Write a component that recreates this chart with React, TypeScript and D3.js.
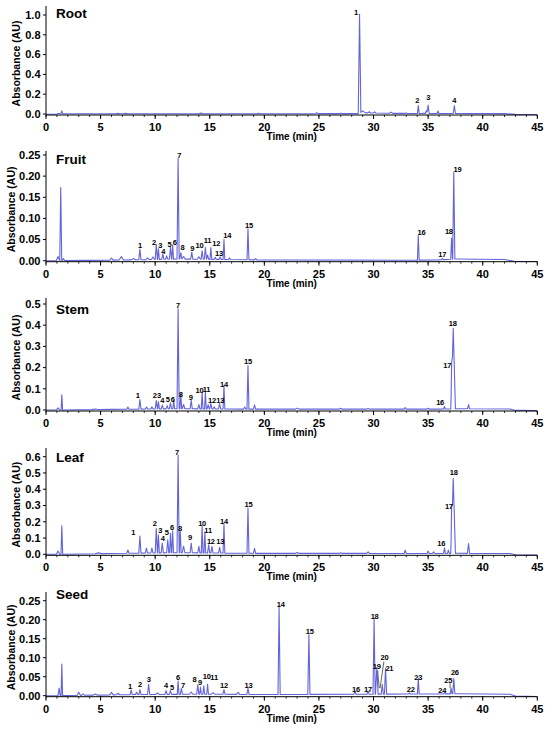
import React from "react";
import * as d3 from "d3";

// ---------- DATA (retention time min, absorbance AU, half base width min) ----------
const timeTicks = [0, 5, 10, 15, 20, 25, 30, 35, 40, 45];
const timeMinorTicks = d3.range(0, 46, 1);

const rootTicks = [0, 0.2, 0.4, 0.6, 0.8, 1.0];
const fruitTicks = [0, 0.05, 0.1, 0.15, 0.2, 0.25];
const stemTicks = [0, 0.1, 0.2, 0.3, 0.4, 0.5];
const leafTicks = [0, 0.1, 0.2, 0.3, 0.4, 0.5, 0.6];
const seedTicks = [0, 0.05, 0.1, 0.15, 0.2, 0.25];

const rootBaseline: [number, number][] = [[0, -0.003], [1, -0.003], [1.2, 0.002], [20, 0.003], [28.5, 0.004], [29.1, 0.012], [32, 0.006], [42, 0.004], [43, -0.004], [45, -0.005]];
const rootPeaks: [number, number, number][] = [
  [1.1, 0.005, 0.2], [1.45, 0.03, 0.08], [6.6, 0.004, 0.2], [7.3, 0.004, 0.2], [14.2, 0.006, 0.2], [19.5, 0.004, 0.2],
  [24.8, 0.01, 0.12], [27.0, 0.004, 0.15], [28.72, 1.0, 0.12], [29.0, 0.02, 0.25], [29.6, 0.012, 0.12], [30.1, 0.012, 0.12],
  [31.6, 0.012, 0.15], [33.0, 0.005, 0.12], [34.1, 0.08, 0.08], [34.6, 0.005, 0.1], [34.85, 0.03, 0.1], [35.0, 0.085, 0.1],
  [35.9, 0.025, 0.08], [37.4, 0.08, 0.1],
];
const rootLabels: [string, number, number][] = [["1", 28.4, 1.03], ["2", 34.0, 0.141], ["3", 35.0, 0.172], ["4", 37.4, 0.141]];

const fruitBaseline: [number, number][] = [[0, 0], [1, 0], [8, 0.002], [12, 0.004], [16, 0.003], [19, 0.002], [33, 0.001], [36, 0.002], [37.5, 0.004], [42, 0.003], [43, -0.002], [45, -0.002]];
const fruitPeaks: [number, number, number][] = [
  [1.1, 0.01, 0.15], [1.35, 0.173, 0.09], [1.6, 0.005, 0.1], [6.0, 0.005, 0.15], [6.9, 0.008, 0.2], [8.0, 0.003, 0.2],
  [8.6, 0.025, 0.1], [9.3, 0.004, 0.15], [9.8, 0.006, 0.15], [10.1, 0.035, 0.1], [10.3, 0.025, 0.08], [10.7, 0.013, 0.1],
  [11.05, 0.008, 0.1], [11.4, 0.028, 0.1], [11.6, 0.033, 0.08], [12.1, 0.238, 0.1], [12.35, 0.015, 0.1], [12.6, 0.006, 0.15],
  [13.35, 0.016, 0.1], [14.0, 0.006, 0.15], [14.3, 0.02, 0.1], [14.6, 0.028, 0.1], [14.8, 0.01, 0.1], [15.1, 0.028, 0.08],
  [15.5, 0.005, 0.1], [15.95, 0.006, 0.1], [16.3, 0.047, 0.08], [16.8, 0.004, 0.1], [18.5, 0.073, 0.09], [19.2, 0.003, 0.1],
  [34.1, 0.058, 0.08], [36.3, 0.003, 0.1], [37.15, 0.05, 0.08], [37.35, 0.205, 0.1],
];
const fruitLabels: [string, number, number][] = [
  ["1", 8.6, 0.037], ["2", 9.9, 0.0426], ["3", 10.47, 0.037], ["4", 10.75, 0.023], ["5", 11.3, 0.0395], ["6", 11.8, 0.0426],
  ["7", 12.2, 0.25], ["8", 12.5, 0.0307], ["9", 13.4, 0.0293], ["10", 14.05, 0.0355], ["11", 14.8, 0.0473], ["12", 15.6, 0.0412],
  ["13", 15.85, 0.0175], ["14", 16.6, 0.059], ["15", 18.6, 0.0844], ["16", 34.4, 0.066], ["17", 36.3, 0.015], ["18", 36.9, 0.0686],
  ["19", 37.7, 0.216],
];

const stemBaseline: [number, number][] = [[0, 0], [1, 0], [6, 0.003], [12, 0.006], [19, 0.004], [36, 0.004], [37.6, 0.006], [42.5, 0.005], [43, -0.002], [45, -0.003]];
const stemPeaks: [number, number, number][] = [
  [1.1, 0.01, 0.15], [1.45, 0.072, 0.07], [4.5, 0.003, 0.3], [7.5, 0.01, 0.1], [8.6, 0.045, 0.1], [9.2, 0.01, 0.1],
  [9.7, 0.01, 0.1], [10.1, 0.04, 0.1], [10.3, 0.035, 0.08], [10.65, 0.018, 0.1], [11.1, 0.015, 0.1], [11.4, 0.028, 0.1],
  [11.7, 0.04, 0.08], [12.1, 0.47, 0.1], [12.35, 0.07, 0.08], [12.6, 0.02, 0.12], [13.3, 0.04, 0.1], [14.0, 0.02, 0.1],
  [14.3, 0.075, 0.08], [14.6, 0.08, 0.08], [14.85, 0.02, 0.1], [15.1, 0.025, 0.1], [15.4, 0.01, 0.1], [15.9, 0.025, 0.1],
  [16.3, 0.11, 0.08], [18.2, 0.01, 0.1], [18.5, 0.205, 0.09], [19.1, 0.02, 0.1], [23, 0.005, 0.15], [27, 0.004, 0.15],
  [29.5, 0.003, 0.15], [32.9, 0.008, 0.1], [35, 0.004, 0.1], [36.5, 0.012, 0.08], [37.15, 0.12, 0.08], [37.3, 0.38, 0.2],
  [38.7, 0.02, 0.1],
];
const stemLabels: [string, number, number][] = [
  ["1", 8.4, 0.069], ["2", 9.95, 0.071], ["3", 10.35, 0.071], ["4", 10.65, 0.047], ["5", 11.15, 0.052], ["6", 11.6, 0.052],
  ["7", 12.1, 0.495], ["8", 12.35, 0.075], ["9", 13.25, 0.06], ["10", 14.05, 0.091], ["11", 14.7, 0.098], ["12", 15.2, 0.047],
  ["13", 15.95, 0.047], ["14", 16.3, 0.121], ["15", 18.5, 0.228], ["16", 36.1, 0.034], ["17", 36.75, 0.212], ["18", 37.25, 0.409],
];

const leafBaseline: [number, number][] = [[0, 0], [1, 0], [6, 0.005], [12, 0.01], [19, 0.006], [36, 0.005], [37.6, 0.006], [42.5, 0.005], [43, -0.003], [45, -0.004]];
const leafPeaks: [number, number, number][] = [
  [1.1, 0.02, 0.15], [1.45, 0.175, 0.08], [4.8, 0.005, 0.3], [7.5, 0.02, 0.1], [8.6, 0.105, 0.1], [9.2, 0.03, 0.1],
  [9.7, 0.03, 0.1], [10.1, 0.15, 0.1], [10.3, 0.11, 0.08], [10.65, 0.06, 0.1], [11.15, 0.08, 0.1], [11.4, 0.12, 0.08],
  [11.6, 0.135, 0.08], [12.1, 0.6, 0.1], [12.3, 0.13, 0.08], [12.6, 0.04, 0.12], [13.3, 0.06, 0.1], [14.0, 0.04, 0.1],
  [14.3, 0.165, 0.08], [14.55, 0.13, 0.08], [14.9, 0.05, 0.1], [15.2, 0.04, 0.1], [15.9, 0.035, 0.1], [16.3, 0.18, 0.08],
  [18.5, 0.278, 0.09], [19.1, 0.03, 0.1], [23, 0.005, 0.15], [27, 0.004, 0.15], [29.5, 0.01, 0.12], [32.9, 0.02, 0.1],
  [35, 0.015, 0.1], [35.5, 0.01, 0.1], [36.5, 0.035, 0.08], [36.85, 0.02, 0.08], [37.15, 0.17, 0.08], [37.3, 0.46, 0.2],
  [38.7, 0.06, 0.1],
];
const leafLabels: [string, number, number][] = [
  ["1", 8.0, 0.133], ["2", 9.95, 0.19], ["3", 10.47, 0.149], ["4", 10.7, 0.098], ["5", 11.05, 0.135], ["6", 11.55, 0.166],
  ["7", 12.0, 0.627], ["8", 12.27, 0.16], ["9", 13.2, 0.102], ["10", 14.3, 0.19], ["11", 14.85, 0.149], ["12", 15.1, 0.077],
  ["13", 15.95, 0.077], ["14", 16.3, 0.205], ["15", 18.55, 0.307], ["16", 36.2, 0.068], ["17", 36.9, 0.297], ["18", 37.35, 0.502],
];

const seedBaseline: [number, number][] = [[0, 0], [1, 0], [8, 0.003], [15, 0.004], [20, 0.003], [30, 0.004], [37.6, 0.005], [42.5, 0.004], [43, -0.001], [45, -0.002]];
const seedPeaks: [number, number, number][] = [
  [1.2, 0.02, 0.1], [1.45, 0.083, 0.07], [3.0, 0.008, 0.15], [3.4, 0.004, 0.15], [4.5, 0.003, 0.2], [6.0, 0.007, 0.15],
  [6.6, 0.004, 0.15], [7.8, 0.012, 0.1], [8.3, 0.006, 0.1], [8.6, 0.013, 0.1], [9.4, 0.027, 0.1], [10.2, 0.004, 0.15],
  [11.0, 0.01, 0.1], [11.4, 0.01, 0.1], [12.1, 0.035, 0.08], [12.4, 0.016, 0.1], [13.3, 0.006, 0.15], [13.9, 0.025, 0.1],
  [14.15, 0.018, 0.08], [14.45, 0.022, 0.08], [14.8, 0.026, 0.08], [15.3, 0.004, 0.15], [16.3, 0.012, 0.1], [17.6, 0.005, 0.15],
  [18.5, 0.016, 0.1], [21.35, 0.23, 0.1], [24.08, 0.157, 0.1], [28.3, 0.008, 0.1], [29.5, 0.008, 0.1], [30.05, 0.197, 0.1],
  [30.3, 0.07, 0.12], [30.8, 0.025, 0.1], [31.1, 0.068, 0.1], [33.3, 0.003, 0.1], [34.1, 0.041, 0.08], [36.5, 0.003, 0.1],
  [37.1, 0.015, 0.08], [37.35, 0.04, 0.1],
];
const seedLabels: [string, number, number][] = [
  ["1", 7.7, 0.0255], ["2", 8.6, 0.029], ["3", 9.4, 0.043], ["4", 11.0, 0.026], ["5", 11.55, 0.023], ["6", 12.1, 0.047],
  ["7", 12.55, 0.028], ["8", 13.6, 0.043], ["9", 14.1, 0.036], ["10", 14.72, 0.051], ["11", 15.4, 0.047], ["12", 16.3, 0.028],
  ["13", 18.55, 0.028], ["14", 21.5, 0.241], ["15", 24.15, 0.168], ["16", 28.4, 0.017], ["17", 29.5, 0.017], ["18", 30.1, 0.208],
  ["19", 30.3, 0.078], ["20", 31.0, 0.101], ["21", 31.45, 0.071], ["22", 33.4, 0.017], ["23", 34.1, 0.048], ["24", 36.3, 0.015],
  ["25", 36.85, 0.041], ["26", 37.45, 0.061],
];
const seedLeaders: [number, number, number, number][] = [[30.38, 0.066, 30.52, 0.02], [30.95, 0.09, 30.6, 0.02], [37.0, 0.033, 37.02, 0.02]];

// ---------- LAYOUT ----------
type Panel = {
  name: string; baseline: [number, number][]; peaks: [number, number, number][]; labels: [string, number, number][];
  leaders: [number, number, number, number][]; ticks: number[]; fmt: string;
  zeroY: number; refVal: number; refY: number; top: number; bottom: number; titleY: number; ylabelX: number;
};

const panels: Panel[] = [
  { name: "Root", baseline: rootBaseline, peaks: rootPeaks, labels: rootLabels, leaders: [], ticks: rootTicks, fmt: ".1f", zeroY: 114, refVal: 1.0, refY: 15, top: 6, bottom: 115, titleY: 18, ylabelX: 16 },
  { name: "Fruit", baseline: fruitBaseline, peaks: fruitPeaks, labels: fruitLabels, leaders: [], ticks: fruitTicks, fmt: ".2f", zeroY: 260.7, refVal: 0.25, refY: 155, top: 151, bottom: 261.7, titleY: 164, ylabelX: 10.5 },
  { name: "Stem", baseline: stemBaseline, peaks: stemPeaks, labels: stemLabels, leaders: [], ticks: stemTicks, fmt: ".1f", zeroY: 410, refVal: 0.5, refY: 304, top: 298, bottom: 411, titleY: 314, ylabelX: 15.5 },
  { name: "Leaf", baseline: leafBaseline, peaks: leafPeaks, labels: leafLabels, leaders: [], ticks: leafTicks, fmt: ".1f", zeroY: 554.3, refVal: 0.6, refY: 456.7, top: 448, bottom: 555.3, titleY: 462, ylabelX: 15.5 },
  { name: "Seed", baseline: seedBaseline, peaks: seedPeaks, labels: seedLabels, leaders: seedLeaders, ticks: seedTicks, fmt: ".2f", zeroY: 695.7, refVal: 0.25, refY: 600.7, top: 592, bottom: 696.7, titleY: 599, ylabelX: 10.5 },
];

const FONT = "'Liberation Sans', Arial, sans-serif";
const LINE = "#6464da";
const x = d3.scaleLinear().domain([0, 45]).range([46, 537.3]);

function trace(p: Panel): [number, number][] {
  const base = d3.scaleLinear().domain(p.baseline.map((d) => d[0])).range(p.baseline.map((d) => d[1])).clamp(true);
  const ts = new Set<number>(p.baseline.map((d) => d[0]));
  p.peaks.forEach(([t, , w]) => { ts.add(t - w); ts.add(t); ts.add(t + w); });
  const sorted = Array.from(ts).filter((t) => t >= 0 && t <= 45).sort((a, b) => a - b);
  return sorted.map((t) => {
    let v = base(t);
    p.peaks.forEach(([t0, h, w]) => {
      const dd = Math.abs(t - t0);
      if (dd < w) v += h * (1 - dd / w);
    });
    return [t, v];
  });
}

function PanelView({ p }: { p: Panel }) {
  const y = d3.scaleLinear().domain([0, p.refVal]).range([p.zeroY, p.refY]);
  const line = d3.line<[number, number]>().x((d) => x(d[0])).y((d) => y(d[1]));
  const fmt = d3.format(p.fmt);
  const x0 = x(0);
  return (
    <g>
      <path d={line(trace(p)) || ""} fill="none" stroke={LINE} strokeWidth={1.1} strokeLinejoin="round" />
      {/* x axis */}
      <line x1={x0} x2={x(45)} y1={p.bottom} y2={p.bottom} stroke="#000" strokeWidth={1} />
      {timeMinorTicks.map((t) => (
        <line key={"m" + t} x1={x(t)} x2={x(t)} y1={p.bottom} y2={p.bottom + 2} stroke="#000" strokeWidth={0.8} />
      ))}
      {timeTicks.map((t) => (
        <g key={"t" + t}>
          <line x1={x(t)} x2={x(t)} y1={p.bottom} y2={p.bottom + 4} stroke="#000" strokeWidth={1} />
          <text x={x(t)} y={p.bottom + 16} textAnchor="middle" fontSize={11} fontWeight="bold" fontFamily={FONT}>{t}</text>
        </g>
      ))}
      <text x={(x(0) + x(45)) / 2} y={p.bottom + 25} textAnchor="middle" fontSize={10} fontWeight="bold" fontFamily={FONT}>Time (min)</text>
      {/* y axis */}
      <line x1={x0} x2={x0} y1={p.top} y2={p.bottom} stroke="#000" strokeWidth={1} />
      {p.ticks.map((v) => (
        <g key={"y" + v}>
          <line x1={x0 - 3} x2={x0} y1={y(v)} y2={y(v)} stroke="#000" strokeWidth={1} />
          <text x={40.5} y={y(v)} dy="0.35em" textAnchor="end" fontSize={11} fontWeight="bold" fontFamily={FONT}>{fmt(v)}</text>
        </g>
      ))}
      <text
        transform={`translate(${p.ylabelX},${(p.top + p.bottom) / 2 + 3}) rotate(-90)`}
        textAnchor="middle" dominantBaseline="central" fontSize={10.5} fontWeight="bold" fontFamily={FONT}
      >Absorbance (AU)</text>
      <text x={56} y={p.titleY} fontSize={13.5} fontWeight="bold" fontFamily={FONT}>{p.name}</text>
      {/* peak labels */}
      {p.labels.map(([s, t, v], i) => (
        <text key={"l" + i} x={x(t)} y={y(v)} dy="0.35em" textAnchor="middle" fontSize={7.5} fontWeight="bold" fontFamily={FONT} letterSpacing={-0.2}>{s}</text>
      ))}
      {p.leaders.map(([t1, v1, t2, v2], i) => (
        <line key={"ld" + i} x1={x(t1)} y1={y(v1)} x2={x(t2)} y2={y(v2)} stroke="#000" strokeWidth={0.6} />
      ))}
    </g>
  );
}

export default function App() {
  return (
    <svg width={550} height={735} style={{ position: "absolute", left: 0, top: 0, background: "#fff" }}>
      <rect width={550} height={735} fill="#fff" />
      {panels.map((p) => <PanelView key={p.name} p={p} />)}
    </svg>
  );
}
